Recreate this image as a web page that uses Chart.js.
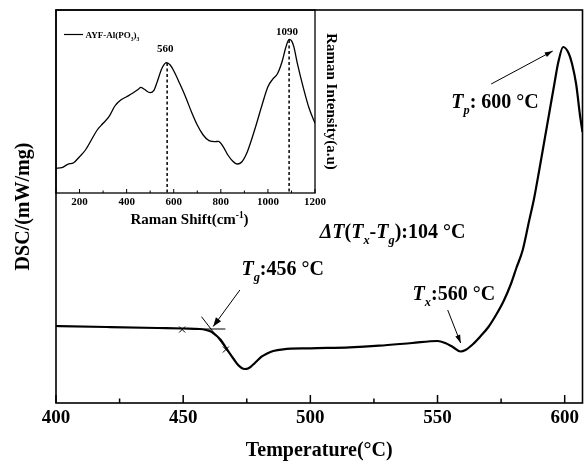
<!DOCTYPE html>
<html><head><meta charset="utf-8">
<script src="https://cdn.jsdelivr.net/npm/chart.js@4.4.0/dist/chart.umd.min.js"></script>
<style>
html,body{margin:0;padding:0;background:#fff;}
#wrap{position:relative;width:584px;height:462px;background:#fff;}
#main{position:absolute;left:0;top:0;}
#inset{position:absolute;left:0;top:0;}
</style></head><body>
<div id="wrap"><canvas id="main" width="584" height="462"></canvas><canvas id="inset" width="345" height="232"></canvas></div>
<script>
const SERIF = "'Liberation Serif','Times New Roman',serif";

// ---- Main DSC curve ----
const dscTemp = [400,420,440,450,456.6,459,461.1,463,464.8,466.5,468.3,470,471.6,473,474.2,475.5,476.9,478.8,480.8,483,485.4,489.3,500,515.5,527,540,550,553,556,559,561,564,567,570,573,576,579,581,583.5,586,588,590,592,594,596,597.5,599.4,601.5,603,604.5,606,607];
const dscValue = [0.77,0.76,0.75,0.745,0.74,0.73,0.713,0.675,0.63,0.565,0.497,0.435,0.38,0.35,0.34,0.345,0.37,0.415,0.463,0.495,0.52,0.537,0.547,0.557,0.573,0.60,0.62,0.60,0.56,0.515,0.53,0.59,0.67,0.76,0.88,1.02,1.20,1.35,1.53,1.82,2.05,2.33,2.62,2.91,3.20,3.41,3.56,3.50,3.38,3.19,2.88,2.71];
const tempTicks = [400,450,500,550,600];
const tempMinorTicks = [425,475,525,575];

// ---- Inset Raman spectrum ----
const ramanShift = [100,125,150,175,200,225,250,275,300,325,350,375,400,425,450,460,475,500,515,530,550,570,585,600,625,650,675,700,725,750,775,790,810,830,850,870,890,910,930,950,975,1000,1020,1040,1060,1075,1090,1100,1110,1125,1150,1175,1200];
const ramanIntensity = [24.7,25.3,28.7,30.3,36.3,43,53,63,69.7,76.3,87,93,96.3,99.7,103.7,105.7,103.7,100.3,102.3,111.3,124.7,130.3,128,122.3,109.7,96.3,81.3,68,58,52.3,51.3,51.7,46.3,38,32,29,31.3,39.7,53,68,88,106.3,113.7,119,131.3,144.7,153.7,152.3,146.3,129.7,105.7,84.7,69.7];
const ramanTicks = [200,400,600,800,1000,1200];
const ramanMinorTicks = [100,300,500,700,900,1100];
const ramanPeakLabels = ['560','1090'];
const ramanPeakShift = [572,1090];
const ramanPeakTop = [130,153];

function richText(ctx, x, y, segs, size, align) {
  ctx.save();
  ctx.fillStyle = '#000';
  ctx.textBaseline = 'alphabetic';
  ctx.textAlign = 'left';
  const fontOf = s => {
    const small = s.sub || s.sup;
    const sz = small ? size * 0.62 : size;
    return (s.i ? 'italic ' : '') + 'bold ' + sz + 'px ' + SERIF;
  };
  let w = 0;
  for (const s of segs) { ctx.font = fontOf(s); w += ctx.measureText(s.t).width; }
  let cx = align === 'center' ? x - w / 2 : x;
  for (const s of segs) {
    ctx.font = fontOf(s);
    const dy = s.sub ? size * 0.3 : (s.sup ? -size * 0.42 : 0);
    ctx.fillText(s.t, cx, y + dy);
    cx += ctx.measureText(s.t).width;
  }
  ctx.restore();
}

function arrow(ctx, x1, y1, x2, y2, head, w) {
  ctx.beginPath(); ctx.moveTo(x1, y1); ctx.lineTo(x2, y2); ctx.stroke();
  const a = Math.atan2(y2 - y1, x2 - x1);
  ctx.beginPath(); ctx.moveTo(x2, y2);
  ctx.lineTo(x2 - head * Math.cos(a) + w * Math.sin(a), y2 - head * Math.sin(a) - w * Math.cos(a));
  ctx.lineTo(x2 - head * Math.cos(a) - w * Math.sin(a), y2 - head * Math.sin(a) + w * Math.cos(a));
  ctx.closePath(); ctx.fill();
}

function drawInwardTicks(chart, major, minor, lenMaj, lenMin, lw) {
  const s = chart.scales.x, a = chart.chartArea, ctx = chart.ctx;
  ctx.save(); ctx.strokeStyle = '#000'; ctx.lineWidth = lw;
  for (const v of major) { const x = s.getPixelForValue(v); ctx.beginPath(); ctx.moveTo(x, a.bottom); ctx.lineTo(x, a.bottom - lenMaj); ctx.stroke(); }
  for (const v of minor) { const x = s.getPixelForValue(v); ctx.beginPath(); ctx.moveTo(x, a.bottom); ctx.lineTo(x, a.bottom - lenMin); ctx.stroke(); }
  ctx.restore();
}

const mainDeco = {
  id: 'mainDeco',
  afterDatasetsDraw(chart) {
    const ctx = chart.ctx, a = chart.chartArea, sx = chart.scales.x, sy = chart.scales.y;
    const P = (xv, yv) => [sx.getPixelForValue(xv), sy.getPixelForValue(yv)];
    ctx.save();
    ctx.strokeStyle = '#000'; ctx.fillStyle = '#000';
    ctx.lineWidth = 1.6;
    ctx.strokeRect(a.left, a.top, a.right - a.left, a.bottom - a.top);
    ctx.restore();
    drawInwardTicks(chart, tempTicks, tempMinorTicks, 8, 4.5, 1.5);

    ctx.save();
    ctx.strokeStyle = '#000'; ctx.fillStyle = '#000'; ctx.lineWidth = 1;
    // tangent construction at Tg
    let p1 = P(456.4, 0.74), p2 = P(466.6, 0.74);
    ctx.beginPath(); ctx.moveTo(p1[0], p1[1]); ctx.lineTo(p2[0], p2[1]); ctx.stroke();
    p1 = P(457.2, 0.863); p2 = P(467.9, 0.51);
    ctx.beginPath(); ctx.moveTo(p1[0], p1[1]); ctx.lineTo(p2[0], p2[1]); ctx.stroke();
    for (const m of [[449.6, 0.735], [466.8, 0.535]]) {
      const c = P(m[0], m[1]);
      ctx.beginPath();
      ctx.moveTo(c[0] - 3, c[1] - 3); ctx.lineTo(c[0] + 3, c[1] + 3);
      ctx.moveTo(c[0] - 3, c[1] + 3); ctx.lineTo(c[0] + 3, c[1] - 3);
      ctx.stroke();
    }
    // arrows
    p1 = P(472.3, 1.13); p2 = P(461.8, 0.765);
    arrow(ctx, p1[0], p1[1], p2[0], p2[1], 9, 3.2);
    p1 = P(554.0, 0.93); p2 = P(559.1, 0.60);
    arrow(ctx, p1[0], p1[1], p2[0], p2[1], 8, 2.6);
    p1 = P(571.1, 3.19); p2 = P(595.3, 3.52);
    arrow(ctx, p1[0], p1[1], p2[0], p2[1], 8, 2.6);
    ctx.restore();

    let t = P(472.9, 1.28);
    richText(ctx, t[0], t[1], [{t:'T', i:true}, {t:'g', i:true, sub:true}, {t:':456 °C'}], 20);
    t = P(540.2, 1.03);
    richText(ctx, t[0], t[1], [{t:'T', i:true}, {t:'x', i:true, sub:true}, {t:':560 °C'}], 20);
    t = P(555.4, 2.95);
    richText(ctx, t[0], t[1], [{t:'T', i:true}, {t:'p', i:true, sub:true}, {t:': 600 °C'}], 20);
    t = P(503.7, 1.65);
    richText(ctx, t[0], t[1], [{t:'ΔT', i:true}, {t:'('}, {t:'T', i:true}, {t:'x', i:true, sub:true}, {t:'-'}, {t:'T', i:true}, {t:'g', i:true, sub:true}, {t:'):104 °C'}], 20);
  }
};

new Chart(document.getElementById('main'), {
  type: 'line',
  data: {
    datasets: [{
      data: dscTemp.map((x, i) => ({x: x, y: dscValue[i]})),
      borderColor: '#000', borderWidth: 2.2, pointRadius: 0,
      cubicInterpolationMode: 'monotone', fill: false
    }]
  },
  options: {
    responsive: false, animation: false, devicePixelRatio: 1,
    layout: { padding: { top: 10, right: 1.5, left: 0, bottom: 0 } },
    plugins: { legend: { display: false }, tooltip: { enabled: false } },
    scales: {
      x: {
        type: 'linear', min: 400, max: 607,
        afterBuildTicks: s => { s.ticks = tempTicks.map(v => ({value: v})); },
        afterFit: s => { s.height = 59; },
        grid: { display: false, drawTicks: false },
        border: { display: false },
        ticks: { color: '#000', padding: 4, callback: v => String(v), font: { family: SERIF, size: 19, weight: 'bold' } },
        title: { display: true, text: 'Temperature(°C)', color: '#000',
          font: { family: SERIF, size: 20, weight: 'bold', lineHeight: 1.0 }, padding: { top: 0, bottom: 1 } }
      },
      y: {
        min: 0, max: 3.93,
        afterFit: s => { s.width = 56; },
        grid: { display: false, drawTicks: false },
        border: { display: false },
        ticks: { display: false },
        title: { display: true, text: 'DSC/(mW/mg)', color: '#000',
          font: { family: SERIF, size: 20, weight: 'bold', lineHeight: 1.2 }, padding: { top: 12, bottom: 0 } }
      }
    }
  },
  plugins: [mainDeco]
});

const insetDeco = {
  id: 'insetDeco',
  afterDatasetsDraw(chart) {
    const ctx = chart.ctx, a = chart.chartArea, sx = chart.scales.x, sy = chart.scales.y;
    const P = (xv, yv) => [sx.getPixelForValue(xv), sy.getPixelForValue(yv)];
    ctx.save();
    ctx.strokeStyle = '#000'; ctx.lineWidth = 1.3;
    ctx.strokeRect(a.left, a.top, a.right - a.left, a.bottom - a.top);
    ctx.restore();
    drawInwardTicks(chart, ramanTicks, ramanMinorTicks, 4, 2.5, 1);
    // dashed peak markers
    ctx.save();
    ctx.strokeStyle = '#000'; ctx.lineWidth = 1.5; ctx.setLineDash([3, 2.5]);
    ramanPeakShift.forEach((v, i) => {
      const top = P(v, ramanPeakTop[i]);
      ctx.beginPath(); ctx.moveTo(top[0], top[1]); ctx.lineTo(top[0], a.bottom); ctx.stroke();
    });
    ctx.restore();
    ramanPeakLabels.forEach((lab, i) => {
      const p = P(ramanPeakShift[i], ramanPeakTop[i] + (i === 0 ? 11 : 5));
      richText(ctx, p[0] - 2, p[1], [{t: lab}], 11, 'center');
    });
    // legend
    ctx.save();
    ctx.strokeStyle = '#000'; ctx.lineWidth = 1.2;
    let l1 = P(134, 158.5), l2 = P(215, 158.5);
    ctx.beginPath(); ctx.moveTo(l1[0], l1[1]); ctx.lineTo(l2[0], l2[1]); ctx.stroke();
    ctx.restore();
    richText(ctx, l2[0] + 2.5, l1[1] + 3.5, [{t:'AYF-Al(PO'}, {t:'3', sub:true}, {t:')'}, {t:'3', sub:true}], 9);
    // x title with superscript
    richText(ctx, (a.left + a.right) / 2 + 4, a.bottom + 31, [{t:'Raman Shift(cm'}, {t:'-1', sup:true}, {t:')'}], 15, 'center');
  }
};

new Chart(document.getElementById('inset'), {
  type: 'line',
  data: {
    datasets: [{
      data: ramanShift.map((x, i) => ({x: x, y: ramanIntensity[i]})),
      borderColor: '#000', borderWidth: 1.3, pointRadius: 0,
      cubicInterpolationMode: 'monotone', fill: false
    }]
  },
  options: {
    responsive: false, animation: false, devicePixelRatio: 1,
    layout: { padding: { top: 10, left: 56, right: 0, bottom: 0 } },
    plugins: { legend: { display: false }, tooltip: { enabled: false } },
    scales: {
      x: {
        type: 'linear', min: 100, max: 1200,
        afterBuildTicks: s => { s.ticks = ramanTicks.map(v => ({value: v})); },
        afterFit: s => { s.height = 39; },
        grid: { display: false, drawTicks: false },
        border: { display: false },
        ticks: { color: '#000', padding: 3, callback: v => String(v), font: { family: SERIF, size: 11, weight: 'bold' } }
      },
      y: {
        position: 'right', min: 0, max: 183,
        afterFit: s => { s.width = 30; },
        grid: { display: false, drawTicks: false },
        border: { display: false },
        ticks: { display: false },
        title: { display: true, text: 'Raman Intensity(a.u)', color: '#000',
          font: { family: SERIF, size: 15, weight: 'bold', lineHeight: 1.2 }, padding: { top: 5, bottom: 0 } }
      }
    }
  },
  plugins: [insetDeco]
});
</script>
</body></html>
